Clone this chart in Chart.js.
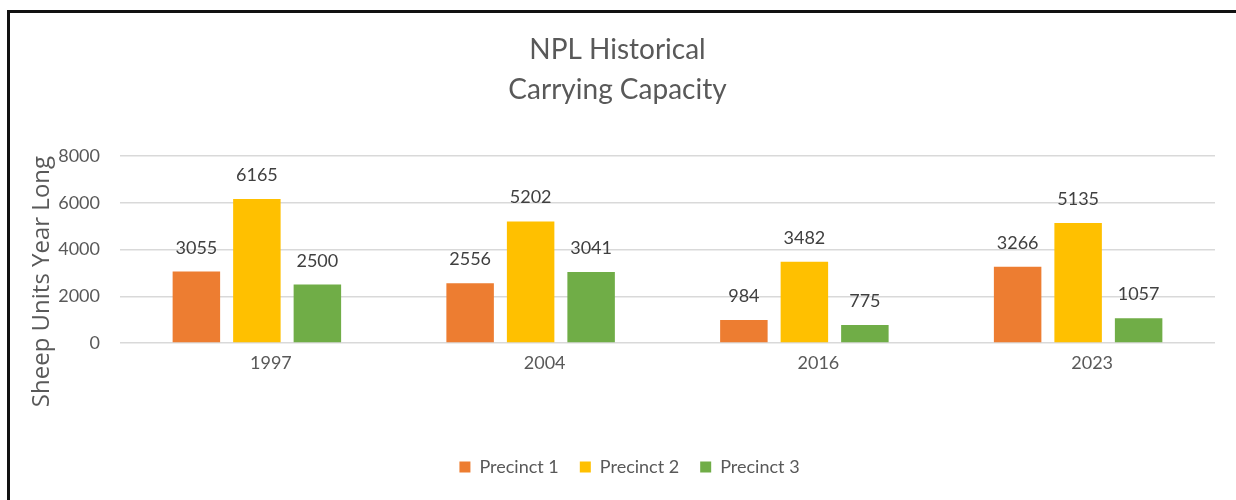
<!DOCTYPE html>
<html>
<head>
<meta charset="utf-8">
<script src="https://cdn.jsdelivr.net/npm/chart.js@4"></script>
<style>
  html, body { margin: 0; padding: 0; background: #fff; }
  #frame { position: absolute; left: 7px; top: 10px; width: 1240px; height: 500px;
           border-top: 3px solid #111; border-left: 3px solid #111; }
  #c { position: absolute; left: 0; top: 0; }
</style>
</head>
<body>
<div id="frame"></div>
<canvas id="c" width="1236" height="500"></canvas>
<script>
const years = ['1997', '2004', '2016', '2023'];
const precinct1 = [3055, 2556, 984, 3266];
const precinct2 = [6165, 5202, 3482, 5135];
const precinct3 = [2500, 3041, 775, 1057];
const seriesNames = ['Precinct 1', 'Precinct 2', 'Precinct 3'];
const seriesColors = ['#ED7D31', '#FFC000', '#70AD47'];
const titleLines = ['NPL Historical', 'Carrying Capacity'];
const yTitle = 'Sheep Units Year Long';
const yTicks = [0, 2000, 4000, 6000, 8000];

const FONT = 'Lato, "Open Sans", sans-serif';

const valueLabels = {
  id: 'valueLabels',
  afterDatasetsDraw(chart) {
    const ctx = chart.ctx;
    ctx.save();
    ctx.font = '18px ' + FONT;
    ctx.fillStyle = '#404040';
    ctx.textAlign = 'center';
    ctx.textBaseline = 'alphabetic';
    chart.data.datasets.forEach((ds, i) => {
      chart.getDatasetMeta(i).data.forEach((bar, j) => {
        ctx.fillText(String(ds.data[j]), bar.x, bar.y - 18);
      });
    });
    ctx.restore();
  }
};

const yAxisTitle = {
  id: 'yAxisTitle',
  afterDraw(chart) {
    const ctx = chart.ctx;
    const a = chart.chartArea;
    ctx.save();
    ctx.font = '24px "Open Sans", Lato, sans-serif';
    ctx.fillStyle = '#595959';
    ctx.textAlign = 'center';
    ctx.textBaseline = 'middle';
    ctx.translate(42, (a.top + a.bottom) / 2 + 32);
    ctx.rotate(-Math.PI / 2);
    ctx.fillText(yTitle, 0, 0);
    ctx.restore();
  }
};

// nudge the legend slightly right, as in the reference
const legendShift = {
  id: 'legendShift',
  afterUpdate(chart) {
    const lg = chart.legend;
    if (!lg || lg._shifted) return;
    const orig = lg.draw.bind(lg);
    lg.draw = function (area) {
      chart.ctx.save();
      chart.ctx.translate(12, 0);
      orig(area);
      chart.ctx.restore();
    };
    lg._shifted = true;
  }
};

new Chart(document.getElementById('c'), {
  type: 'bar',
  data: {
    labels: years,
    datasets: [precinct1, precinct2, precinct3].map((d, i) => ({
      label: seriesNames[i],
      data: d,
      backgroundColor: seriesColors[i],
      borderWidth: 0,
      categoryPercentage: 0.663,
      barPercentage: 0.785
    }))
  },
  options: {
    responsive: false,
    devicePixelRatio: 1,
    animation: false,
    layout: { padding: { left: 20, right: 21, top: 0, bottom: 14 } },
    plugins: {
      title: {
        display: true,
        text: titleLines,
        color: '#595959',
        font: { family: FONT, size: 28, weight: 'normal', lineHeight: 1.43 },
        padding: { top: 30, bottom: 46 }
      },
      legend: {
        position: 'bottom',
        labels: {
          color: '#595959',
          font: { family: FONT, size: 18 },
          boxWidth: 11,
          boxHeight: 11,
          padding: 21
        }
      },
      tooltip: { enabled: false }
    },
    scales: {
      x: {
        grid: { display: false, drawTicks: false },
        border: { display: false },
        ticks: { color: '#595959', font: { family: FONT, size: 18 }, padding: 9, labelOffset: 14 },
        afterFit(s) { s.height = 94; }
      },
      y: {
        min: 0,
        max: 8000,
        afterBuildTicks(s) { s.ticks = yTicks.map(v => ({ value: v })); },
        grid: { color: '#d9d9d9', lineWidth: 1.5, drawTicks: false },
        border: { display: false },
        ticks: { color: '#595959', font: { family: FONT, size: 18 }, padding: 20,
                 callback: v => String(v) },
        afterFit(s) { s.width = 100; }
      }
    }
  },
  plugins: [valueLabels, yAxisTitle, legendShift]
});
</script>
</body>
</html>
